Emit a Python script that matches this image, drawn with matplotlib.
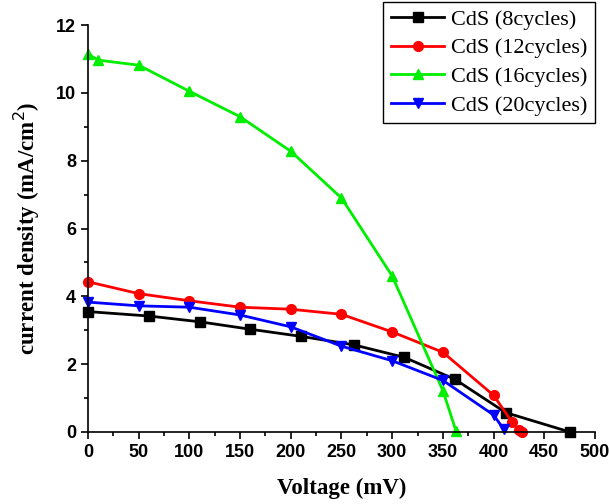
import matplotlib.pyplot as plt
from matplotlib.ticker import MultipleLocator

# dane
v_8 = [0, 60, 110, 160, 210, 262, 312, 362, 412, 475]
j_8 = [3.55, 3.42, 3.25, 3.03, 2.82, 2.57, 2.20, 1.55, 0.57, 0.0]

v_12 = [0, 50, 100, 150, 200, 250, 300, 350, 400, 418, 425, 428]
j_12 = [4.43, 4.08, 3.87, 3.68, 3.62, 3.47, 2.95, 2.35, 1.08, 0.30, 0.05, 0.0]

v_16 = [0, 10, 50, 100, 150, 200, 250, 300, 350, 363]
j_16 = [11.15, 10.97, 10.82, 10.05, 9.30, 8.28, 6.90, 4.60, 1.22, 0.02]

v_20 = [0, 50, 100, 150, 200, 250, 300, 350, 400, 410]
j_20 = [3.83, 3.72, 3.68, 3.45, 3.10, 2.53, 2.10, 1.52, 0.50, 0.08]

series = [
    ("CdS (8cycles)", v_8, j_8, "black", "s"),
    ("CdS (12cycles)", v_12, j_12, "red", "o"),
    ("CdS (16cycles)", v_16, j_16, "#00ee00", "^"),
    ("CdS (20cycles)", v_20, j_20, "blue", "v"),
]

fig = plt.figure(figsize=(6.09, 5.04), dpi=100)
ax = fig.add_axes([0.1445, 0.143, 0.8325, 0.807])

for label, v, j, color, marker in series:
    ax.plot(v, j, color=color, marker=marker, markersize=7, linewidth=2, label=label, clip_on=False)

ax.set_xlim(0, 500)
ax.set_ylim(0, 12)
ax.xaxis.set_major_locator(MultipleLocator(50))
ax.xaxis.set_minor_locator(MultipleLocator(25))
ax.yaxis.set_major_locator(MultipleLocator(2))
ax.yaxis.set_minor_locator(MultipleLocator(1))
ax.spines["top"].set_visible(False)
ax.spines["right"].set_visible(False)
for s in ("left", "bottom"):
    ax.spines[s].set_linewidth(1.2)
ax.tick_params(which="major", direction="out", length=5, width=1.2)
ax.tick_params(which="minor", direction="out", length=3, width=1.2)
for lbl in ax.get_xticklabels() + ax.get_yticklabels():
    lbl.set_fontfamily("Liberation Sans")
    lbl.set_fontweight("bold")
    lbl.set_fontsize(13)

ax.set_xlabel("Voltage (mV)", fontfamily="Liberation Serif", fontweight="bold", fontsize=16.5, labelpad=12)
ax.set_ylabel("current density (mA/cm$^2$)", fontfamily="Liberation Serif", fontweight="bold",
              fontsize=16.5, labelpad=10)

leg = ax.legend(loc="upper right", bbox_to_anchor=(0.977, 0.997), bbox_transform=fig.transFigure,
                prop={"family": "Liberation Serif", "size": 16}, fancybox=False,
                edgecolor="black", framealpha=1, handlelength=2.4, borderpad=0.35,
                labelspacing=0.36, handletextpad=0.3, borderaxespad=0)
leg.get_frame().set_linewidth(1.0)

fig.savefig("out.png", dpi=100)
